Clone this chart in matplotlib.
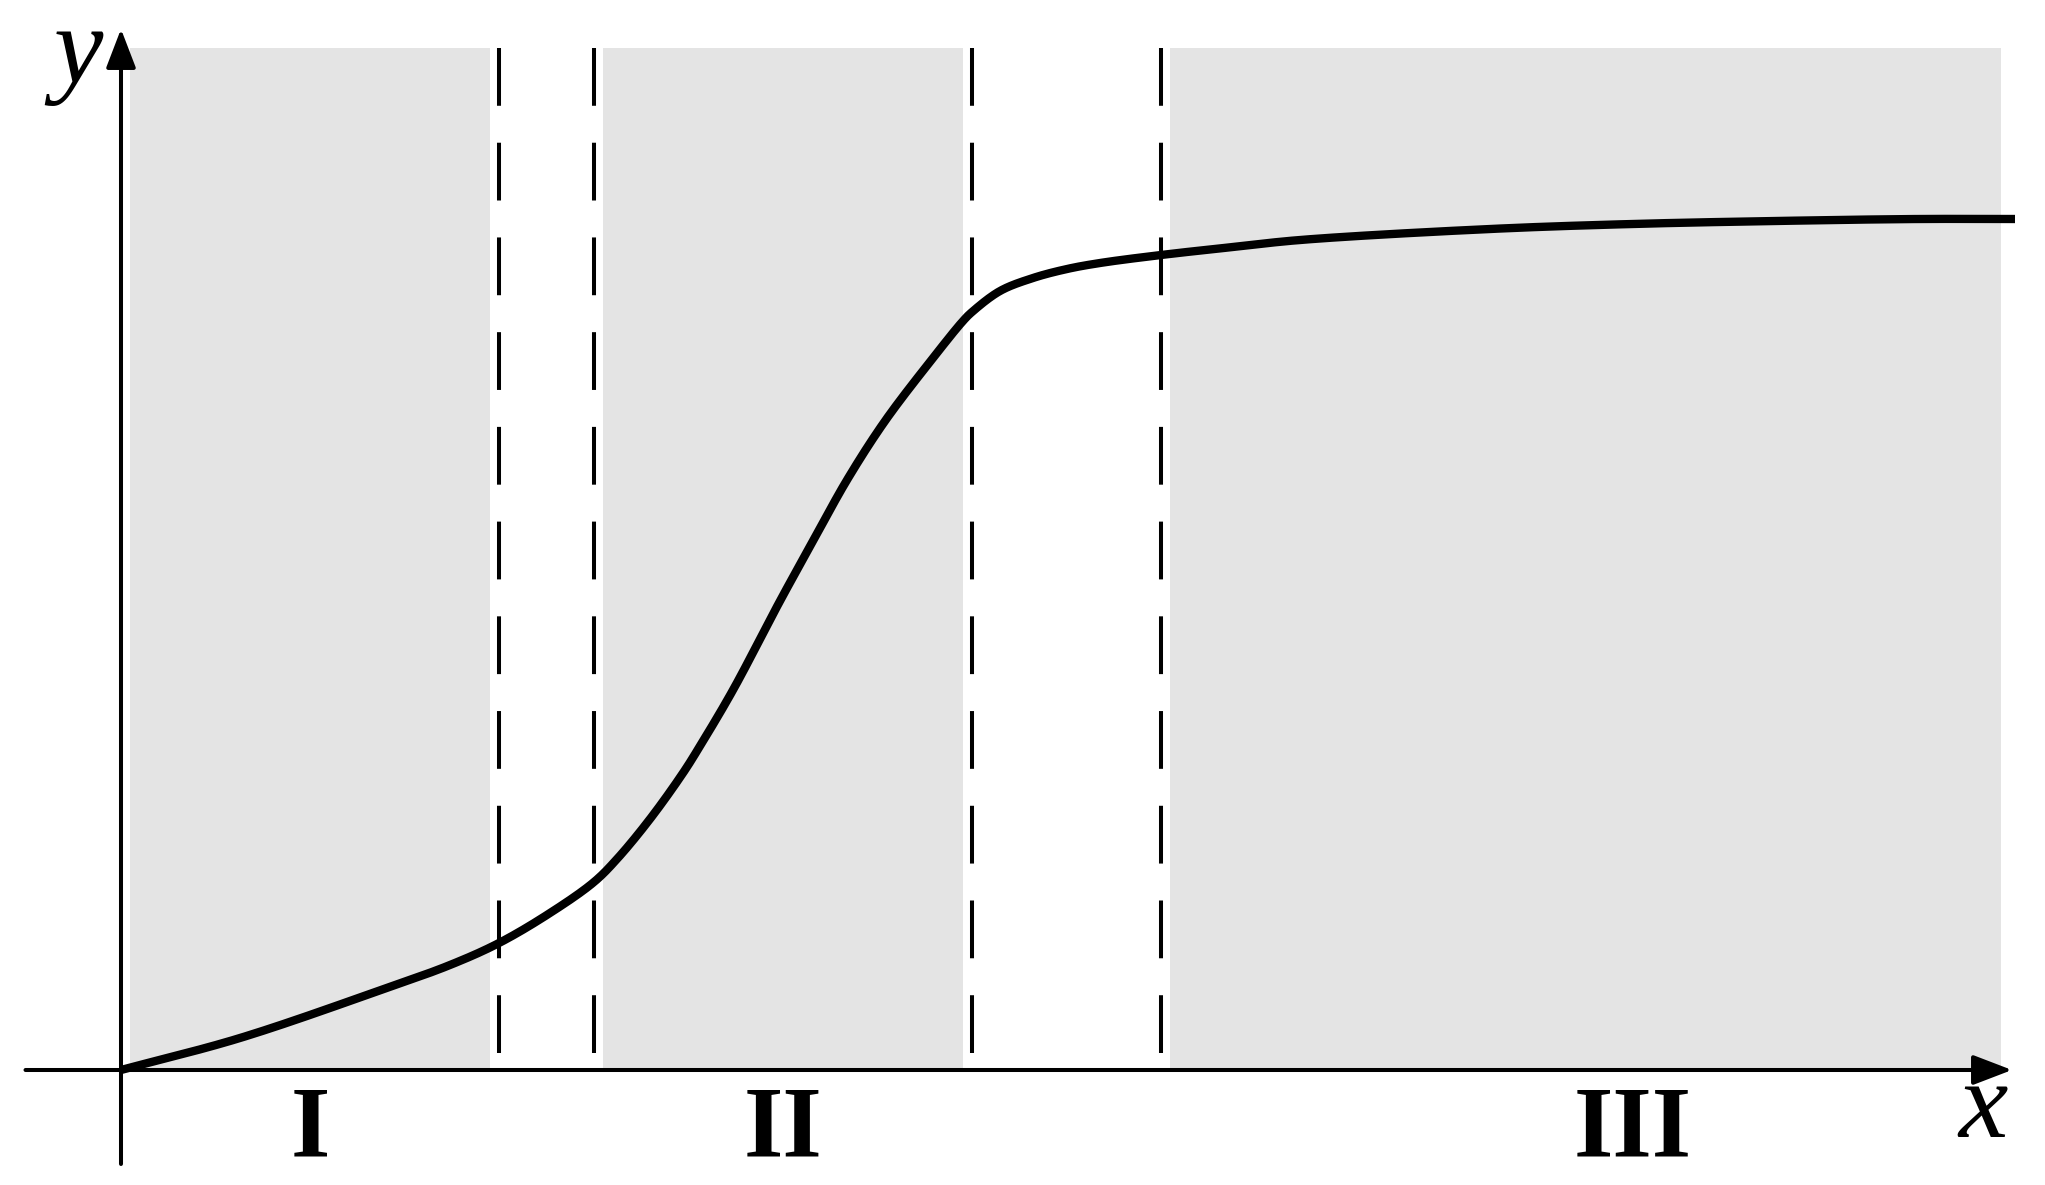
import numpy as np
import matplotlib.pyplot as plt

plt.rcParams['lines.scale_dashes'] = False

# curve (x to the right, y up, origin where axes cross)
curve_x = [0, 1.19, 2.60, 3.29, 3.78, 4.29, 4.73, 4.96, 5.29, 5.62, 5.79, 6.12, 6.59,
           6.92, 7.26, 7.64, 8.12, 8.42, 8.51, 8.79, 9.12, 9.46, 9.79, 10.40, 11.12,
           11.79, 13.69, 15.11, 16.54, 17.97, 18.94]
curve_y = [0, 0.32, 0.80, 1.05, 1.27, 1.57, 1.88, 2.11, 2.51, 2.97, 3.24, 3.80, 4.69,
           5.29, 5.90, 6.49, 7.12, 7.49, 7.58, 7.79, 7.92, 8.01, 8.07, 8.15, 8.23,
           8.30, 8.41, 8.46, 8.49, 8.51, 8.51]

# shaded regions and the dashed borders between them
band_left = [0.09, 4.82, 10.49]
band_right = [3.69, 8.42, 18.80]
band_top = 10.22
dash_x = [3.78, 4.73, 8.51, 10.40]

region_names = ['I', 'II', 'III']
region_x = [1.89, 6.62, 15.12]

# axis extents
x_axis = (-0.955, 18.91)
y_axis = (-0.94, 10.41)


def smooth(xs, ys, n=30):
    # centripetal catmull-rom through the read points, just for drawing
    p = np.column_stack([xs, ys]).astype(float)
    p = np.vstack([2 * p[0] - p[1], p, 2 * p[-1] - p[-2]])
    out = []
    for i in range(1, len(p) - 2):
        p0, p1, p2, p3 = p[i - 1], p[i], p[i + 1], p[i + 2]
        t0 = 0.0
        t1 = t0 + np.linalg.norm(p1 - p0) ** 0.5
        t2 = t1 + np.linalg.norm(p2 - p1) ** 0.5
        t3 = t2 + np.linalg.norm(p3 - p2) ** 0.5
        t = np.linspace(t1, t2, n, endpoint=False)[:, None]
        a1 = (t1 - t) / (t1 - t0) * p0 + (t - t0) / (t1 - t0) * p1
        a2 = (t2 - t) / (t2 - t1) * p1 + (t - t1) / (t2 - t1) * p2
        a3 = (t3 - t) / (t3 - t2) * p2 + (t - t2) / (t3 - t2) * p3
        b1 = (t2 - t) / (t2 - t0) * a1 + (t - t0) / (t2 - t0) * a2
        b2 = (t3 - t) / (t3 - t1) * a2 + (t - t1) / (t3 - t1) * a3
        out.append((t2 - t) / (t2 - t1) * b1 + (t - t1) / (t2 - t1) * b2)
    out.append(p[-2][None, :])
    out = np.vstack(out)
    return out[:, 0], out[:, 1]


fig = plt.figure(figsize=(20.45, 11.85), dpi=100)
ax = fig.add_axes([0, 0, 1, 1])
ax.set_xlim(-1.21, 19.24)
ax.set_ylim(-1.15, 10.70)
ax.axis('off')

for left, right in zip(band_left, band_right):
    ax.fill_between([left, right], 0, band_top, color='#e4e4e4', lw=0, zorder=1)

for x in dash_x:
    ax.plot([x, x], [band_top, 0], color='black', lw=2.9,
            linestyle=(0, (41.6, 26.6)), zorder=2)

# axes with arrow heads
arrow = dict(arrowstyle='-|>,head_length=2.4,head_width=0.92', mutation_scale=10,
             lw=2.9, color='black', shrinkA=0, shrinkB=0)
ax.annotate('', xy=(x_axis[1], 0), xytext=(x_axis[0], 0), arrowprops=arrow, zorder=3)
ax.annotate('', xy=(0, y_axis[1]), xytext=(0, y_axis[0]), arrowprops=arrow, zorder=3)

sx, sy = smooth(curve_x, curve_y)
ax.plot(sx, sy, color='black', lw=6.0, solid_capstyle='butt',
        solid_joinstyle='round', zorder=4)

for name, x in zip(region_names, region_x):
    ax.text(x, -0.86, name, ha='center', va='baseline', fontsize=73,
            family='Liberation Serif', fontweight='bold')

ax.text(18.62, -0.67, 'x', ha='center', va='baseline', fontsize=80,
        family='Liberation Serif', style='italic')
ax.text(-0.43, 9.87, 'y', ha='center', va='baseline', fontsize=80,
        family='Liberation Serif', style='italic')

fig.savefig('out.png', dpi=100)
